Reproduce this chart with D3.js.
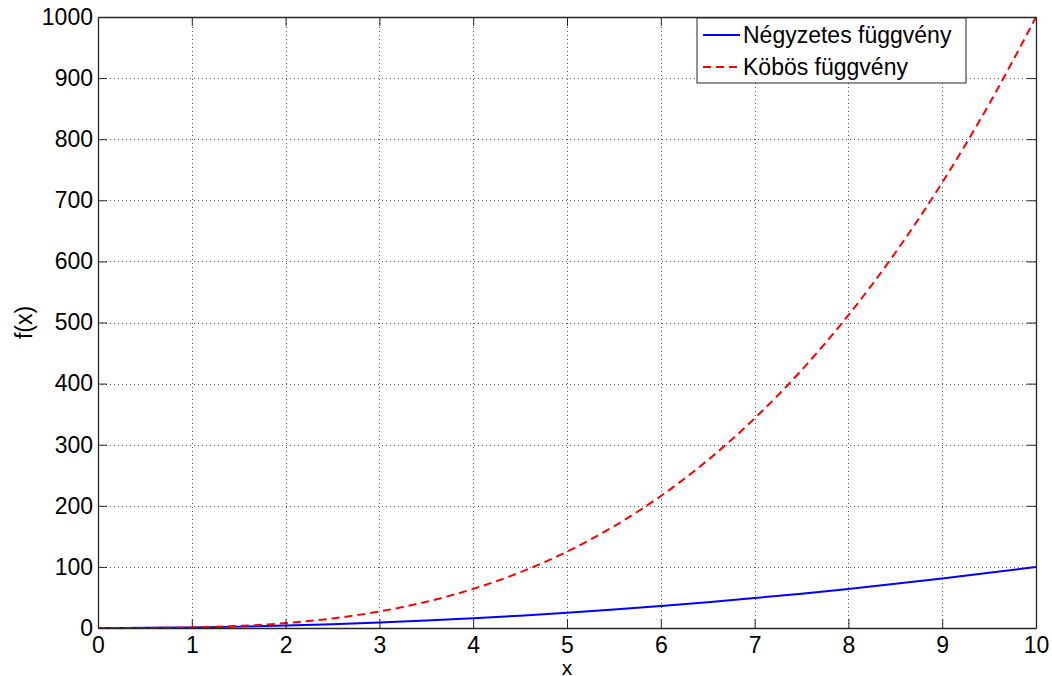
<!DOCTYPE html>
<html>
<head>
<meta charset="utf-8">
<script src="https://cdn.jsdelivr.net/npm/d3@7"></script>
<style>
  body { margin: 0; background: #fff; }
  svg { display: block; font-family: "Liberation Sans", Arial, sans-serif; }
</style>
</head>
<body>
<svg id="chart" width="1052" height="676"></svg>
<script>
// values
const xValues = [0, 0.5, 1, 1.5, 2, 2.5, 3, 3.5, 4, 4.5, 5, 5.5, 6, 6.5, 7, 7.5, 8, 8.5, 9, 9.5, 10];
const quadValues = [0, 0.25, 1, 2.25, 4, 6.25, 9, 12.25, 16, 20.25, 25, 30.25, 36, 42.25, 49, 56.25, 64, 72.25, 81, 90.25, 100];
const cubicValues = [0, 0.125, 1, 3.4, 8, 15.6, 27, 42.9, 64, 91.1, 125, 166.4, 216, 274.6, 343, 421.9, 512, 614.1, 729, 857.4, 1000];
const xTicks = [0, 1, 2, 3, 4, 5, 6, 7, 8, 9, 10];
const yTicks = [0, 100, 200, 300, 400, 500, 600, 700, 800, 900, 1000];
const seriesNames = ['Négyzetes függvény', 'Köbös függvény'];

const margin = { top: 17, right: 16, bottom: 48, left: 98 };
const width = 1052, height = 676;

const svg = d3.select('#chart');

const x = d3.scaleLinear().domain([0, 10]).range([margin.left, width - margin.right]);
const y = d3.scaleLinear().domain([0, 1000]).range([height - margin.bottom, margin.top]);

const axisColor = '#262626';
const fontSize = '23px';

// grid
const grid = svg.append('g')
  .attr('stroke', '#555')
  .attr('stroke-width', 1)
  .attr('stroke-dasharray', '1,3');

grid.selectAll('line.vx')
  .data(xTicks.slice(1, -1))
  .join('line')
  .attr('x1', d => Math.round(x(d)) + 0.5)
  .attr('x2', d => Math.round(x(d)) + 0.5)
  .attr('y1', y(0))
  .attr('y2', y(1000));

grid.selectAll('line.hy')
  .data(yTicks.slice(1, -1))
  .join('line')
  .attr('y1', d => Math.round(y(d)) + 0.5)
  .attr('y2', d => Math.round(y(d)) + 0.5)
  .attr('x1', x(0))
  .attr('x2', x(10));

// data lines
const rows = xValues.map((v, i) => ({ x: v, q: quadValues[i], c: cubicValues[i] }));

const lineQ = d3.line().x(d => x(d.x)).y(d => y(d.q)).curve(d3.curveMonotoneX);
const lineC = d3.line().x(d => x(d.x)).y(d => y(d.c)).curve(d3.curveMonotoneX);

svg.append('path')
  .datum(rows)
  .attr('fill', 'none')
  .attr('stroke', '#0000ff')
  .attr('stroke-width', 2)
  .attr('d', lineQ);

svg.append('path')
  .datum(rows)
  .attr('fill', 'none')
  .attr('stroke', '#ff0000')
  .attr('stroke-width', 2)
  .attr('stroke-dasharray', '8,5')
  .attr('d', lineC);

// axes (ticks inward, box all round)
const tickLen = 9;
const fmt = d3.format('d');
const axB = svg.append('g')
  .attr('transform', `translate(0,${y(0)})`)
  .call(d3.axisBottom(x).tickValues(xTicks).tickFormat(fmt).tickSizeInner(-tickLen).tickSizeOuter(0));
const axT = svg.append('g')
  .attr('transform', `translate(0,${y(1000)})`)
  .call(d3.axisTop(x).tickValues(xTicks).tickSizeInner(-tickLen).tickSizeOuter(0).tickFormat(''));
const axL = svg.append('g')
  .attr('transform', `translate(${x(0)},0)`)
  .call(d3.axisLeft(y).tickValues(yTicks).tickFormat(fmt).tickSizeInner(-tickLen).tickSizeOuter(0));
const axR = svg.append('g')
  .attr('transform', `translate(${x(10)},0)`)
  .call(d3.axisRight(y).tickValues(yTicks).tickSizeInner(-tickLen).tickSizeOuter(0).tickFormat(''));

[axB, axT, axL, axR].forEach(a => {
  a.select('.domain').attr('stroke', axisColor).attr('stroke-width', 1.3);
  a.selectAll('.tick line').attr('stroke', axisColor);
  a.selectAll('.tick text')
    .attr('fill', '#000')
    .style('font-size', fontSize)
    .style('font-family', '"Liberation Sans", Arial, sans-serif');
});
axB.selectAll('.tick text').attr('dy', '0.71em').attr('y', 9);
axL.selectAll('.tick text').attr('x', -5);

// axis titles
svg.append('text')
  .attr('x', (x(0) + x(10)) / 2)
  .attr('y', 675)
  .attr('text-anchor', 'middle')
  .style('font-size', '21px')
  .text('x');

svg.append('text')
  .attr('transform', `translate(32,${(y(0) + y(1000)) / 2}) rotate(-90)`)
  .attr('text-anchor', 'middle')
  .style('font-size', fontSize)
  .text('f(x)');

// legend
const legend = svg.append('g').attr('transform', 'translate(697,18)');
legend.append('rect')
  .attr('width', 269)
  .attr('height', 65)
  .attr('fill', '#fff')
  .attr('stroke', axisColor)
  .attr('stroke-width', 1);

const legendItems = [
  { name: seriesNames[0], color: '#0000ff', dash: null },
  { name: seriesNames[1], color: '#ff0000', dash: '8,5' }
];

const item = legend.selectAll('g.item')
  .data(legendItems)
  .join('g')
  .attr('transform', (d, i) => `translate(0,${17 + i * 32})`);

item.append('line')
  .attr('x1', 6)
  .attr('x2', 43)
  .attr('stroke', d => d.color)
  .attr('stroke-width', 2)
  .attr('stroke-dasharray', d => d.dash);

item.append('text')
  .attr('x', 46)
  .attr('dy', '0.36em')
  .style('font-size', fontSize)
  .text(d => d.name);
</script>
</body>
</html>
